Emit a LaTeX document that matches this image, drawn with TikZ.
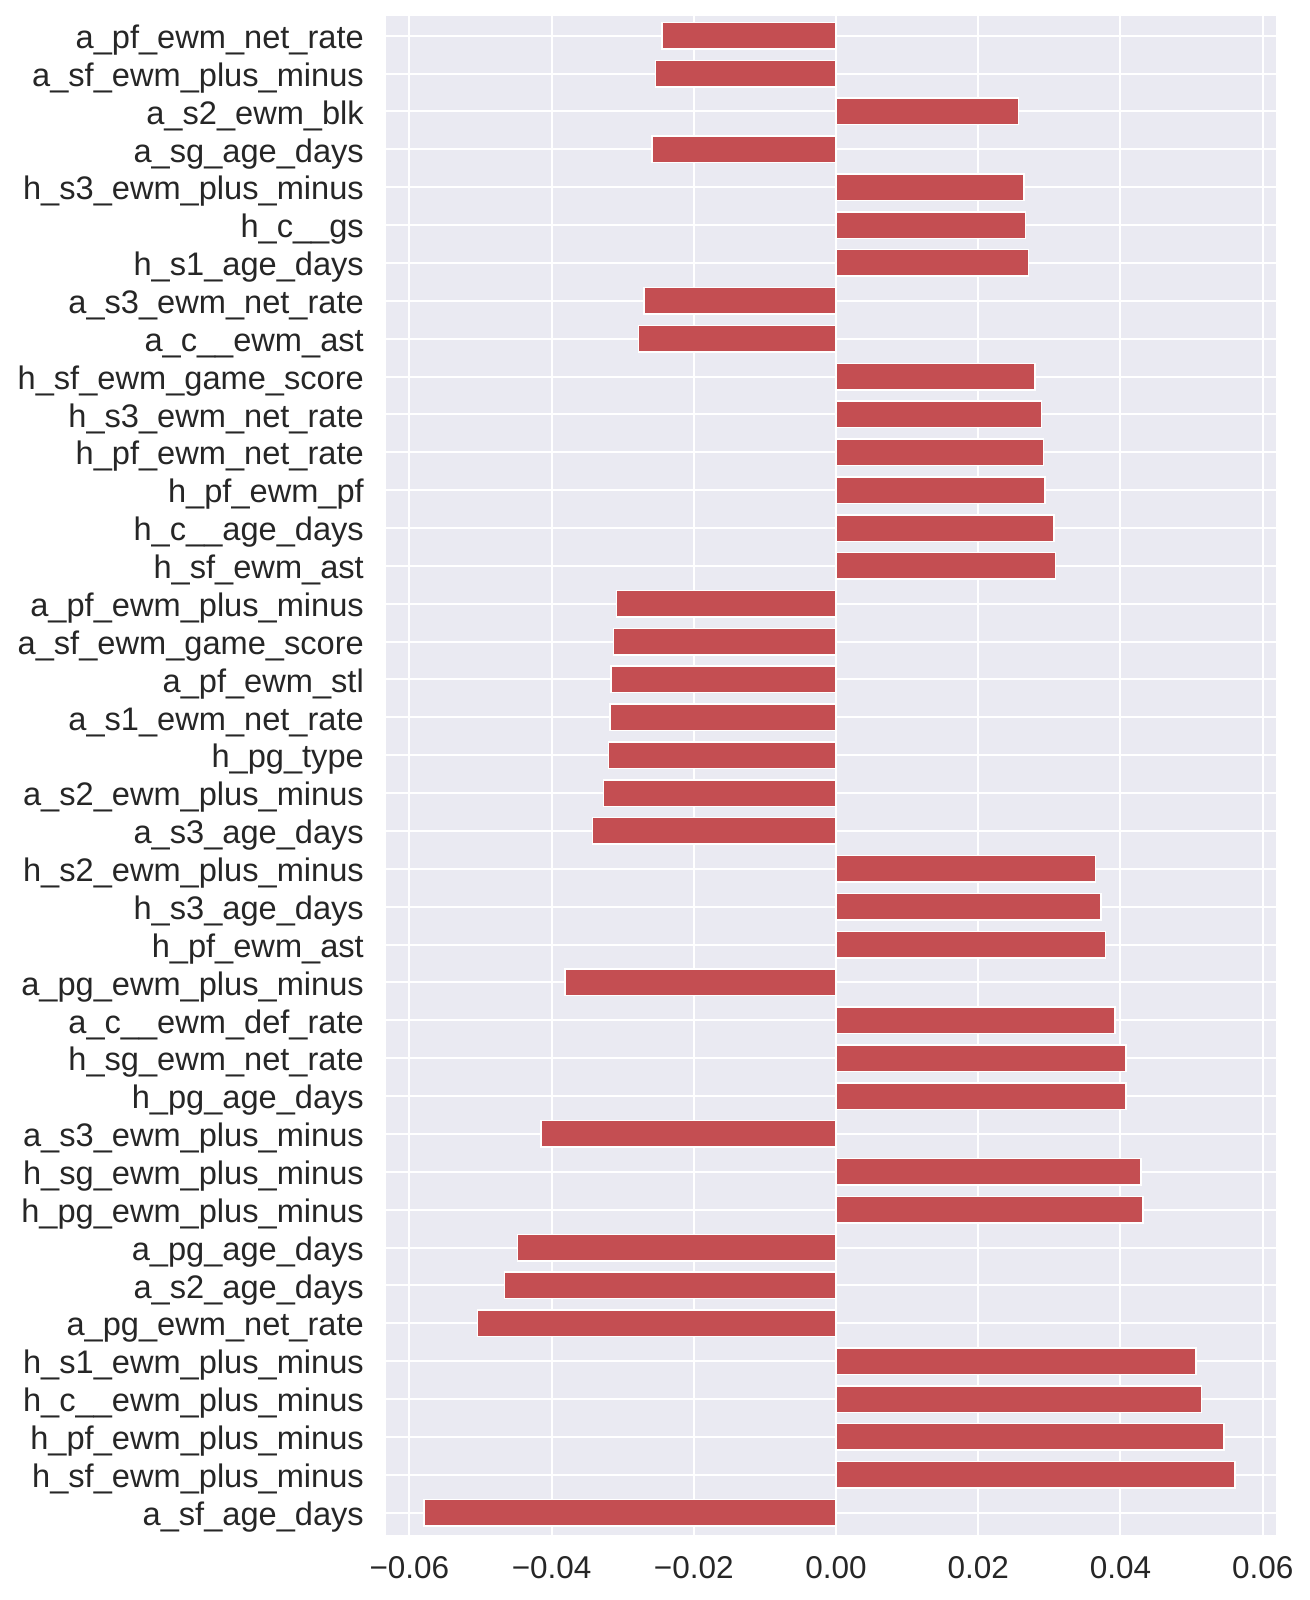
\documentclass[tikz,border=0pt]{standalone}
\usepackage{fontspec}
\setmainfont{Liberation Sans}
\definecolor{axbg}{HTML}{EAEAF2}
\definecolor{barred}{HTML}{C44E52}
\definecolor{txt}{HTML}{262626}
\begin{document}
\begin{tikzpicture}[x=1pt,y=-1pt,
  ylab/.style={anchor=base east, inner sep=0pt, text=txt, font=\fontsize{32.6}{36}\selectfont},
  xlab/.style={anchor=base, inner sep=0pt, text=txt, font=\fontsize{31.5}{36}\selectfont},
  barshape/.style={fill=barred, draw=white, line width=1.5pt},
  gridline/.style={white, line width=2pt}]
\useasboundingbox (0,0) rectangle (1309,1600);
\fill[axbg] (385.7,15.7) rectangle (1276.3,1535);
% vertical grid
\foreach \t in {-0.06,-0.04,-0.02,0,0.02,0.04,0.06}{
  \pgfmathsetmacro{\gx}{836+\t*7111}
  \draw[gridline] (\gx,15.7) -- (\gx,1535);
}
% horizontal grid
\foreach \i in {0,...,39}{
  \pgfmathsetmacro{\gy}{35.7+\i*37.87}
  \draw[gridline] (385.7,\gy) -- (1276.3,\gy);
}
% bars and labels
\foreach \lab/\v [count=\n from 0] in {
 a\_pf\_ewm\_net\_rate/-0.0245,
 a\_sf\_ewm\_plus\_minus/-0.0254,
 a\_s2\_ewm\_blk/0.02564,
 a\_sg\_age\_days/-0.0259,
 h\_s3\_ewm\_plus\_minus/0.02644,
 h\_c\_\_gs/0.02662,
 h\_s1\_age\_days/0.02704,
 a\_s3\_ewm\_net\_rate/-0.0270,
 a\_c\_\_ewm\_ast/-0.0278,
 h\_sf\_ewm\_game\_score/0.02798,
 h\_s3\_ewm\_net\_rate/0.02887,
 h\_pf\_ewm\_net\_rate/0.02916,
 h\_pf\_ewm\_pf/0.02939,
 h\_c\_\_age\_days/0.03066,
 h\_sf\_ewm\_ast/0.03084,
 a\_pf\_ewm\_plus\_minus/-0.03084,
 a\_sf\_ewm\_game\_score/-0.03126,
 a\_pf\_ewm\_stl/-0.03168,
 a\_s1\_ewm\_net\_rate/-0.03182,
 h\_pg\_type/-0.03196,
 a\_s2\_ewm\_plus\_minus/-0.03267,
 a\_s3\_age\_days/-0.03422,
 h\_s2\_ewm\_plus\_minus/0.0365,
 h\_s3\_age\_days/0.0373,
 h\_pf\_ewm\_ast/0.0379,
 a\_pg\_ewm\_plus\_minus/-0.0381,
 a\_c\_\_ewm\_def\_rate/0.0392,
 h\_sg\_ewm\_net\_rate/0.0408,
 h\_pg\_age\_days/0.0408,
 a\_s3\_ewm\_plus\_minus/-0.0415,
 h\_sg\_ewm\_plus\_minus/0.0429,
 h\_pg\_ewm\_plus\_minus/0.0432,
 a\_pg\_age\_days/-0.0448,
 a\_s2\_age\_days/-0.0466,
 a\_pg\_ewm\_net\_rate/-0.0504,
 h\_s1\_ewm\_plus\_minus/0.0506,
 h\_c\_\_ewm\_plus\_minus/0.0514,
 h\_pf\_ewm\_plus\_minus/0.0546,
 h\_sf\_ewm\_plus\_minus/0.0561,
 a\_sf\_age\_days/-0.0579}{
  \pgfmathsetmacro{\cy}{35.7+\n*37.87}
  \pgfmathsetmacro{\xe}{836+\v*7111}
  \draw[barshape] (836,\cy-13.25) rectangle (\xe,\cy+13.25);
  \node[ylab] (lab\n) at (364,\cy+12.7) {\lab};
}
% x tick labels
\foreach \t/\s [count=\k] in {-0.06/−0.06,-0.04/−0.04,-0.02/−0.02,0/0.00,0.02/0.02,0.04/0.04,0.06/0.06}{
  \pgfmathsetmacro{\gx}{836+\t*7111}
  \node[xlab] (tick\k) at (\gx,1578.3) {\s};
}
\end{tikzpicture}
\end{document}
